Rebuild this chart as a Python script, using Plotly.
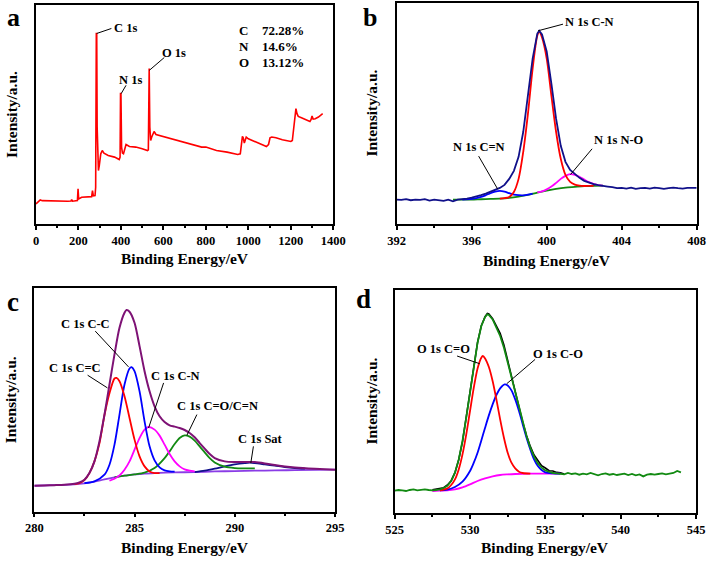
import plotly.graph_objects as go

FONT = "Liberation Serif"

# ---------------- Panel a : survey spectrum ----------------
survey_ev = [0, 10, 20, 30, 60, 100, 150, 165, 168, 172, 195, 198, 201, 215, 240, 262, 266, 270, 278, 281,
             284, 286, 288, 291, 294, 298, 305, 312, 320, 340, 370, 392, 396, 398, 400, 403, 407, 412, 418,
             424, 440, 470, 500, 525, 529, 531, 533, 536, 540, 545, 550, 556, 565, 600, 650, 700, 750, 780,
             800, 850, 900, 950, 962, 966, 972, 976, 981, 986, 990, 1000, 1020, 1050, 1085, 1095, 1102, 1110,
             1130, 1160, 1200, 1207, 1213, 1220, 1224, 1229, 1235, 1250, 1270, 1290, 1295, 1300, 1305, 1315,
             1330, 1350]
survey_int = [20.0, 21.7, 24.0, 23.3, 23.0, 23.0, 22.7, 23.0, 24.3, 22.7, 23.3, 35.0, 25.0, 26.7, 27.0, 27.3,
              33.3, 28.0, 28.3, 36.7, 190.0, 190.0, 96.7, 63.3, 53.3, 58.3, 70.0, 73.3, 70.7, 68.3, 66.7, 64.3,
              66.7, 130.0, 130.0, 76.7, 70.7, 70.0, 75.0, 79.3, 77.3, 76.7, 75.0, 73.3, 74.0, 155.0, 155.0, 96.7,
              83.3, 86.7, 90.0, 92.3, 89.3, 87.3, 84.0, 81.7, 79.0, 76.7, 76.7, 73.3, 71.7, 69.3, 70.0, 76.7,
              87.3, 86.0, 80.7, 84.0, 86.7, 85.0, 83.3, 80.7, 77.3, 79.3, 86.0, 86.7, 86.0, 84.0, 82.3, 83.3,
              95.0, 110.0, 115.0, 110.0, 107.3, 106.0, 104.0, 102.3, 104.0, 107.7, 104.7, 105.0, 106.7, 110.0]
elements = ["C", "N", "O"]
percents = ["72.28%", "14.6%", "13.12%"]

# ---------------- Panel b : N 1s ----------------
n_raw_ev = [392.0, 392.25, 392.5, 392.75, 393.0, 393.25, 393.5, 393.75, 394.0, 394.25, 394.5, 394.75, 395.0,
            395.25, 395.5, 395.75, 396.0, 396.25, 396.5, 396.75, 397.0, 397.25, 397.5, 397.75, 398.0, 398.25,
            398.5, 398.75, 399.0, 399.25, 399.5, 399.6, 399.75, 400.0, 400.25, 400.5, 400.75, 401.0, 401.25,
            401.5, 401.75, 402.0, 402.25, 402.5, 402.75, 403.0, 403.25, 403.5, 403.75, 404.0, 404.25, 404.5,
            404.75, 405.0, 405.25, 405.5, 405.75, 406.0, 406.25, 406.5, 406.75, 407.0, 407.25, 407.5, 407.75,
            408.0]
n_raw_int = [24.3, 24.0, 24.7, 23.7, 24.3, 24.0, 24.7, 23.3, 24.3, 24.0, 23.0, 24.3, 22.7, 24.3, 24.7, 25.3,
             26.3, 27.3, 28.7, 30.3, 32.3, 34.3, 36.0, 39.0, 45.0, 53.0, 67.0, 92.0, 127.0, 165.0, 190.0, 192.7,
             189.0, 172.0, 140.0, 105.0, 78.0, 62.0, 54.0, 49.7, 46.0, 43.0, 41.0, 39.7, 38.7, 38.3, 37.3, 36.7,
             35.7, 36.0, 35.3, 36.3, 35.0, 35.7, 36.0, 35.3, 36.3, 35.7, 35.0, 35.7, 36.3, 35.7, 35.3, 36.0,
             35.7, 36.0]
n_cn_ev = [397.5, 397.75, 398.0, 398.25, 398.5, 398.75, 399.0, 399.25, 399.5, 399.6, 399.75, 400.0, 400.25,
           400.5, 400.75, 401.0, 401.25, 401.5, 401.75, 402.0, 402.25, 402.5]
n_cn_int = [25.3, 25.8, 27.0, 32.0, 45.0, 72.0, 110.0, 155.0, 188.0, 191.7, 186.0, 165.0, 128.0, 92.0, 65.0,
            49.0, 42.0, 39.3, 38.3, 37.9, 38.0, 38.0]
n_ceqn_ev = [395.5, 396.0, 396.5, 396.75, 397.0, 397.25, 397.5, 397.75, 398.0, 398.25, 398.5, 398.75, 399.0,
             399.25]
n_ceqn_int = [24.3, 25.0, 27.0, 28.7, 30.7, 32.3, 33.0, 32.3, 30.7, 29.3, 28.7, 28.6, 29.2, 30.3]
n_no_ev = [399.5, 399.75, 400.0, 400.25, 400.5, 400.75, 401.0, 401.25, 401.5, 401.75, 402.0, 402.25, 402.5,
           402.75, 403.0]
n_no_int = [31.5, 32.5, 34.5, 37.3, 41.0, 45.0, 48.0, 49.7, 49.0, 47.0, 44.3, 41.7, 40.0, 38.7, 38.3]
n_bg_ev = [395.0, 395.5, 396.0, 396.5, 397.0, 397.5, 398.0, 398.5, 399.0, 399.5, 400.0, 400.5, 401.0, 401.5,
           402.0, 402.5, 403.0]
n_bg_int = [24.3, 24.3, 24.3, 24.7, 25.0, 25.3, 26.0, 27.3, 29.0, 31.3, 33.3, 35.0, 36.3, 37.0, 37.7, 38.0, 38.3]
n_labels = ["N 1s C-N", "N 1s C=N", "N 1s N-O"]

# ---------------- Panel c : C 1s ----------------
c_env_ev = [280.0, 280.5, 281.0, 281.5, 282.0, 282.25, 282.5, 282.75, 283.0, 283.25, 283.5, 283.75, 284.0,
            284.25, 284.5, 284.6, 284.75, 285.0, 285.25, 285.5, 285.75, 286.0, 286.25, 286.5, 286.75, 287.0,
            287.25, 287.5, 287.75, 288.0, 288.25, 288.5, 288.75, 289.0, 289.5, 290.0, 290.5, 291.0, 291.5,
            292.0, 292.5, 293.0, 294.0, 295.0]
c_env_int = [25.7, 26.0, 26.3, 26.7, 27.7, 29.0, 31.7, 38.3, 50.0, 70.0, 96.7, 126.7, 156.7, 183.3, 198.3,
             201.0, 199.3, 188.3, 165.0, 140.0, 120.0, 105.0, 95.0, 89.3, 86.0, 84.7, 83.3, 81.3, 78.3, 74.0,
             68.3, 62.7, 57.3, 53.3, 50.0, 49.3, 49.5, 49.3, 48.0, 46.3, 45.0, 44.0, 42.7, 41.7]
c_cc2_ev = [282.0, 282.25, 282.5, 282.75, 283.0, 283.25, 283.5, 283.75, 284.0, 284.1, 284.25, 284.5, 284.75,
            285.0, 285.25, 285.5, 285.75, 286.0, 286.25]
c_cc2_int = [27.3, 28.3, 31.3, 38.3, 50.0, 68.0, 96.0, 118.0, 132.7, 133.3, 130.0, 115.0, 93.3, 71.7, 55.0,
             45.0, 40.0, 38.3, 38.3]
c_cc_ev = [282.5, 283.0, 283.5, 283.75, 284.0, 284.25, 284.5, 284.75, 284.85, 285.0, 285.25, 285.5, 285.75,
           286.0, 286.25, 286.5, 286.75, 287.0]
c_cc_int = [28.3, 30.0, 36.7, 46.7, 66.7, 96.7, 126.7, 142.7, 144.0, 140.0, 120.0, 90.0, 65.0, 51.0, 44.0,
            41.0, 40.0, 39.7]
c_cn_ev = [283.75, 284.0, 284.25, 284.5, 284.75, 285.0, 285.25, 285.5, 285.7, 286.0, 286.25, 286.5, 286.75,
           287.0, 287.25, 287.5, 287.75, 288.0]
c_cn_int = [30.7, 32.7, 36.0, 41.7, 50.0, 61.7, 73.3, 81.7, 84.3, 81.7, 75.7, 66.7, 57.3, 50.0, 45.0, 42.0,
            40.7, 40.0]
c_co_ev = [284.0, 284.5, 285.0, 285.5, 286.0, 286.5, 286.75, 287.0, 287.25, 287.5, 287.75, 288.0, 288.25,
           288.5, 288.75, 289.0, 289.5, 290.0, 290.5, 291.0]
c_co_int = [34.0, 35.7, 37.0, 38.7, 43.3, 53.3, 60.0, 67.3, 73.3, 76.0, 74.7, 70.7, 65.0, 59.0, 53.3, 49.0,
            44.7, 43.3, 43.0, 43.0]
c_sat_ev = [288.0, 288.5, 289.0, 289.5, 290.0, 290.5, 290.75, 291.0, 291.5, 292.0, 292.5, 293.0, 293.5]
c_sat_int = [39.3, 40.7, 42.7, 45.0, 47.0, 48.3, 48.7, 48.3, 47.0, 45.7, 44.3, 43.3, 42.7]
c_bg_ev = [280.0, 281.0, 282.0, 282.5, 283.0, 283.5, 284.0, 284.5, 285.0, 285.5, 286.0, 287.0, 288.0, 289.0,
           290.0, 291.0, 292.0, 293.0, 295.0]
c_bg_int = [25.7, 26.3, 27.0, 28.0, 29.7, 32.0, 34.0, 35.7, 37.0, 37.7, 38.3, 39.0, 39.3, 40.0, 40.3, 40.7,
            41.0, 41.3, 41.7]
c_labels = ["C 1s C-C", "C 1s C=C", "C 1s C-N", "C 1s C=O/C=N", "C 1s Sat"]

# ---------------- Panel d : O 1s ----------------
o_fit_ev = [525.0, 525.25, 525.5, 525.75, 526.0, 526.25, 526.5, 526.75, 527.0, 527.25, 527.5, 527.75, 528.0,
            528.25, 528.5, 528.75, 529.0, 529.25, 529.5, 529.75, 530.0, 530.25, 530.5, 530.75, 531.0, 531.15,
            531.25, 531.5, 531.75, 532.0, 532.25, 532.5, 532.75, 533.0, 533.25, 533.5, 533.75, 534.0, 534.25,
            534.5, 534.75, 535.0, 535.25, 535.5, 535.75, 536.0, 536.25, 536.5, 536.75, 537.0, 537.25, 537.5,
            537.75, 538.0, 538.25, 538.5, 538.75, 539.0, 539.25, 539.5, 539.75, 540.0, 540.25, 540.5, 540.75,
            541.0, 541.25, 541.5, 541.75, 542.0, 542.25, 542.5, 542.75, 543.0, 543.25, 543.5, 543.75, 544.0]
o_fit_int = [22.0, 22.7, 22.3, 21.7, 22.7, 23.3, 22.3, 22.7, 23.3, 22.7, 22.3, 22.7, 23.3, 24.7, 27.0, 31.7,
             40.0, 53.3, 71.7, 95.0, 121.7, 146.7, 170.0, 186.7, 195.7, 198.3, 197.7, 193.3, 185.7, 176.7,
             165.0, 150.0, 135.0, 120.0, 105.0, 90.0, 76.7, 65.0, 56.0, 49.3, 45.0, 42.3, 40.7, 39.7, 39.3,
             39.0, 38.3, 39.7, 38.7, 39.3, 38.0, 39.0, 38.3, 39.7, 38.7, 37.3, 38.7, 39.3, 38.0, 38.7, 37.7,
             38.3, 39.0, 37.7, 38.7, 37.3, 38.3, 36.3, 38.0, 38.7, 38.0, 38.7, 39.3, 38.3, 39.0, 39.7, 41.7,
             40.3]
o_raw_ev = [527.5, 527.75, 528.0, 528.25, 528.5, 528.75, 529.0, 529.25, 529.5, 529.75, 530.0, 530.25, 530.5,
            530.75, 531.0, 531.15, 531.25, 531.5, 531.75, 532.0, 532.25, 532.5, 532.75, 533.0, 533.25, 533.5,
            533.75, 534.0, 534.25, 534.5, 534.75, 535.0, 535.25, 535.5, 535.75, 536.0, 536.25]
o_raw_int = [23.0, 23.7, 24.3, 25.0, 27.7, 32.0, 40.0, 53.0, 71.0, 95.3, 121.0, 146.0, 170.3, 187.0, 196.0,
             199.3, 198.7, 194.0, 187.0, 179.3, 167.7, 152.0, 136.0, 120.3, 104.7, 90.3, 77.3, 66.3, 57.7,
             51.7, 47.0, 44.7, 42.0, 41.7, 40.3, 40.0, 38.7]
o_ceqo_ev = [528.0, 528.5, 528.75, 529.0, 529.25, 529.5, 529.75, 530.0, 530.25, 530.5, 530.75, 530.85, 531.0,
             531.25, 531.5, 531.75, 532.0, 532.25, 532.5, 532.75, 533.0, 533.25, 533.5, 534.0]
o_ceqo_int = [22.3, 24.3, 27.7, 33.3, 43.3, 58.3, 78.3, 101.7, 125.0, 144.3, 155.0, 156.7, 154.3, 145.7,
              131.7, 113.3, 93.3, 75.0, 60.0, 50.0, 44.3, 41.0, 39.7, 39.0]
o_co_ev = [528.0, 528.5, 529.0, 529.5, 530.0, 530.25, 530.5, 530.75, 531.0, 531.25, 531.5, 531.75, 532.0,
           532.3, 532.5, 532.75, 533.0, 533.25, 533.5, 533.75, 534.0, 534.25, 534.5, 534.75, 535.0, 535.5,
           536.0]
o_co_int = [22.3, 23.0, 25.7, 31.0, 41.7, 50.0, 60.0, 72.3, 85.0, 97.3, 108.3, 117.7, 124.3, 128.3, 127.3,
            122.3, 113.3, 101.7, 88.3, 75.0, 63.3, 53.3, 46.7, 42.7, 40.3, 39.3, 39.0]
o_bg_ev = [527.5, 528.0, 528.5, 529.0, 529.5, 530.0, 530.5, 531.0, 531.5, 532.0, 532.5, 533.0, 534.0, 535.0,
           536.0]
o_bg_int = [21.7, 22.0, 22.3, 23.3, 25.3, 28.3, 31.7, 34.3, 36.3, 37.7, 38.3, 38.7, 39.0, 39.0, 39.0]
o_labels = ["O 1s C=O", "O 1s C-O"]

# ---------------- colours ----------------
RED = "#ff0000"
BLUE = "#0000ff"
MAGENTA = "#ff00ff"
GREEN = "#128a12"
NAVY = "#10108a"
PURPLE = "#7e1275"
VIOLET = "#8a3ce6"
BLACK = "#000000"

fig = go.Figure()


def add(xs, ys, color, ax, width=1.8, shape="spline"):
    fig.add_trace(go.Scatter(x=xs, y=ys, mode="lines", xaxis="x" + ax, yaxis="y" + ax,
                             line=dict(color=color, width=width, shape=shape, smoothing=0.8),
                             showlegend=False, hoverinfo="skip"))


# panel a
add(survey_ev, survey_int, RED, "", width=1.6, shape="linear")
# panel b
add(n_bg_ev, n_bg_int, GREEN, "2")
add(n_no_ev, n_no_int, MAGENTA, "2")
add(n_ceqn_ev, n_ceqn_int, BLUE, "2")
add(n_cn_ev, n_cn_int, RED, "2")
add(n_raw_ev, n_raw_int, NAVY, "2", width=1.8, shape="linear")
# panel c
add(c_bg_ev, c_bg_int, VIOLET, "3")
add(c_sat_ev, c_sat_int, NAVY, "3")
add(c_co_ev, c_co_int, GREEN, "3")
add(c_cn_ev, c_cn_int, MAGENTA, "3")
add(c_cc_ev, c_cc_int, BLUE, "3")
add(c_cc2_ev, c_cc2_int, RED, "3")
add(c_env_ev, c_env_int, PURPLE, "3", width=2.0)
# panel d
add(o_raw_ev, o_raw_int, BLACK, "4", width=1.6, shape="linear")
add(o_bg_ev, o_bg_int, MAGENTA, "4")
add(o_co_ev, o_co_int, BLUE, "4")
add(o_ceqo_ev, o_ceqo_int, RED, "4")
add(o_fit_ev, o_fit_int, GREEN, "4", width=1.8, shape="linear")

W, H = 708, 562


def px(x):
    return x / W


def py(y):
    return 1 - y / H


tickfont = dict(family=FONT, size=12.5, color="black", weight="bold")


def xaxis(dom, rng, dtick, minor, anchor):
    return dict(domain=dom, range=rng, dtick=dtick, tick0=rng[0], showline=True, mirror=True,
                linecolor="black", linewidth=1.6, ticks="outside", ticklen=4, tickwidth=1.5,
                tickcolor="black", tickfont=tickfont, showgrid=False, zeroline=False, anchor=anchor,
                automargin=False,
                minor=dict(ticks="outside", ticklen=2.5, tickwidth=1.5, tickcolor="black", dtick=minor,
                           tick0=rng[0], showgrid=False))


def yaxis(dom, rng, anchor):
    return dict(domain=dom, range=rng, showline=True, mirror=True, linecolor="black", linewidth=1.6,
                showticklabels=False, ticks="", showgrid=False, zeroline=False, anchor=anchor,
                automargin=False)


layout = dict(width=W, height=H, margin=dict(l=0, r=0, t=0, b=0, autoexpand=False),
              paper_bgcolor="white", plot_bgcolor="white", showlegend=False)
layout["xaxis"] = xaxis([px(36), px(333.3)], [0, 1400], 200, 100, "y")
layout["yaxis"] = yaxis([py(224), py(4.7)], [0, 218.7], "x")
layout["xaxis2"] = xaxis([px(396.7), px(696.7)], [392, 408], 4, 2, "y2")
layout["yaxis2"] = yaxis([py(224), py(2.7)], [0, 220.7], "x2")
layout["xaxis3"] = xaxis([px(34.3), px(335)], [280, 295], 5, 2.5, "y3")
layout["yaxis3"] = yaxis([py(511.5), py(288)], [0, 223], "x3")
layout["xaxis4"] = xaxis([px(394.7), px(696)], [525, 545], 5, 2.5, "y4")
layout["yaxis4"] = yaxis([py(512.7), py(290)], [0, 222.7], "x4")
fig.update_layout(**layout)

ann = []


def text(t, x, y, ax, size=12.5, xanchor="center"):
    ann.append(dict(text=t, x=x, y=y, xref="x" + ax, yref="y" + ax, showarrow=False,
                    xanchor=xanchor, yanchor="middle",
                    font=dict(family=FONT, size=size, color="black", weight="bold")))


shapes = []


def leader(x0, y0, x1, y1, ax):
    shapes.append(dict(type="line", x0=x0, y0=y0, x1=x1, y1=y1, xref="x" + ax, yref="y" + ax,
                       line=dict(color="black", width=1)))


# panel a labels
text("C 1s", 423, 195, "", size=12.5)
leader(286, 190, 355, 195, "")
text("N 1s", 445, 144, "", size=12.5)
leader(401, 130, 424, 138.3, "")
text("O 1s", 652, 170.5, "", size=12.5)
leader(534, 153.3, 604, 166, "")
for i, (el, pc) in enumerate(zip(elements, percents)):
    yy = 192.6 - 16 * i
    text(el, 945, yy, "", size=13, xanchor="left")
    text(pc, 1054, yy, "", size=13, xanchor="left")

# panel b labels
text(n_labels[0], 402.28, 201.7, "2")
leader(399.54, 192.7, 400.87, 199.3, "2")
text(n_labels[1], 396.38, 76.7, "2")
leader(397.38, 35, 396.37, 67.7, "2")
text(n_labels[2], 403.85, 84, "2")
leader(401.27, 49.3, 402.42, 75, "2")

# panel c labels
text(c_labels[0], 282.57, 186.7, "3")
leader(283.04, 180, 284.70, 144.3, "3")
text(c_labels[1], 282.04, 143.3, "3")
leader(282.66, 136, 283.65, 123.3, "3")
text(c_labels[2], 287.03, 135, "3")
leader(286.45, 128.3, 285.70, 83.3, "3")
text(c_labels[3], 289.14, 105, "3")
leader(288.11, 96.7, 287.61, 76, "3")
text(c_labels[4], 291.28, 72.7, "3")
leader(290.93, 65, 290.80, 48.3, "3")

# panel d labels
text(o_labels[0], 528.26, 163.3, "4")
leader(529.14, 156.7, 530.64, 149, "4")
text(o_labels[1], 535.86, 159, "4")
leader(534.32, 153.3, 532.44, 129, "4")


# axis titles and panel letters (paper coordinates)
def ptext(t, x, y, size, angle=0, yanchor="middle"):
    ann.append(dict(text=t, x=px(x), y=py(y), xref="paper", yref="paper", showarrow=False,
                    xanchor="center", yanchor=yanchor, textangle=angle,
                    font=dict(family=FONT, size=size, color="black", weight="bold")))


for cx, cy in [(184.6, 258), (546.7, 260.5), (184.6, 547.5), (545.3, 547.5)]:
    ptext("Binding Energy/eV", cx, cy, 15.5)
for cx, cy in [(11.7, 114.3), (371.3, 113.3), (10.5, 399.8), (371.3, 401.3)]:
    ptext("Intensity/a.u.", cx, cy, 15.5, angle=-90)
ptext("a", 13.5, 0.5, 26, yanchor="top")
ptext("b", 370, 0.5, 26, yanchor="top")
ptext("c", 12.5, 302, 27)
ptext("d", 363, 299, 27)

fig.update_layout(annotations=ann, shapes=shapes)
fig.write_html("out.html", config={"displayModeBar": False},
               post_script="document.body.style.margin='0';document.body.style.overflow='hidden';")
